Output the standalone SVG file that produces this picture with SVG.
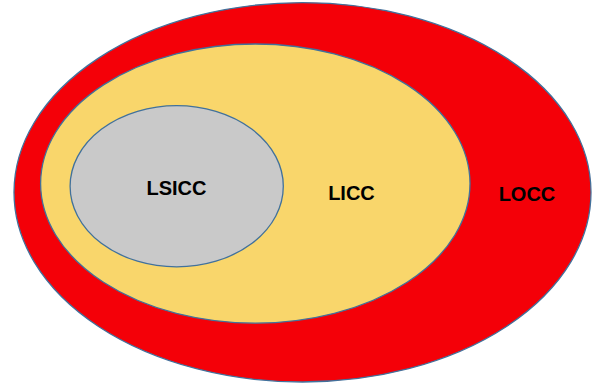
<svg xmlns="http://www.w3.org/2000/svg" width="593" height="388" viewBox="0 0 593 388">
<style>
.e{stroke:#41719C;stroke-width:1.3}
.t{font-family:"Liberation Sans",Arial,sans-serif;font-weight:bold;font-size:20px;fill:#000}
</style>
<rect width="593" height="388" fill="#fff"/>
<g id="LOCC">
<ellipse class="e" cx="302.5" cy="192.3" rx="288.5" ry="189.7" fill="#F40008"/>
<text class="t" x="527" y="201" text-anchor="middle">LOCC</text>
</g>
<g id="LICC">
<ellipse class="e" cx="255.3" cy="183.6" rx="214.7" ry="139.6" fill="#F9D66B"/>
<text class="t" x="351.5" y="200" text-anchor="middle">LICC</text>
</g>
<g id="LSICC">
<ellipse class="e" cx="176.7" cy="186.3" rx="106.6" ry="80.6" fill="#C9C9C9"/>
<text class="t" x="176.5" y="195" text-anchor="middle">LSICC</text>
</g>
<g id="connectors"/>
</svg>
